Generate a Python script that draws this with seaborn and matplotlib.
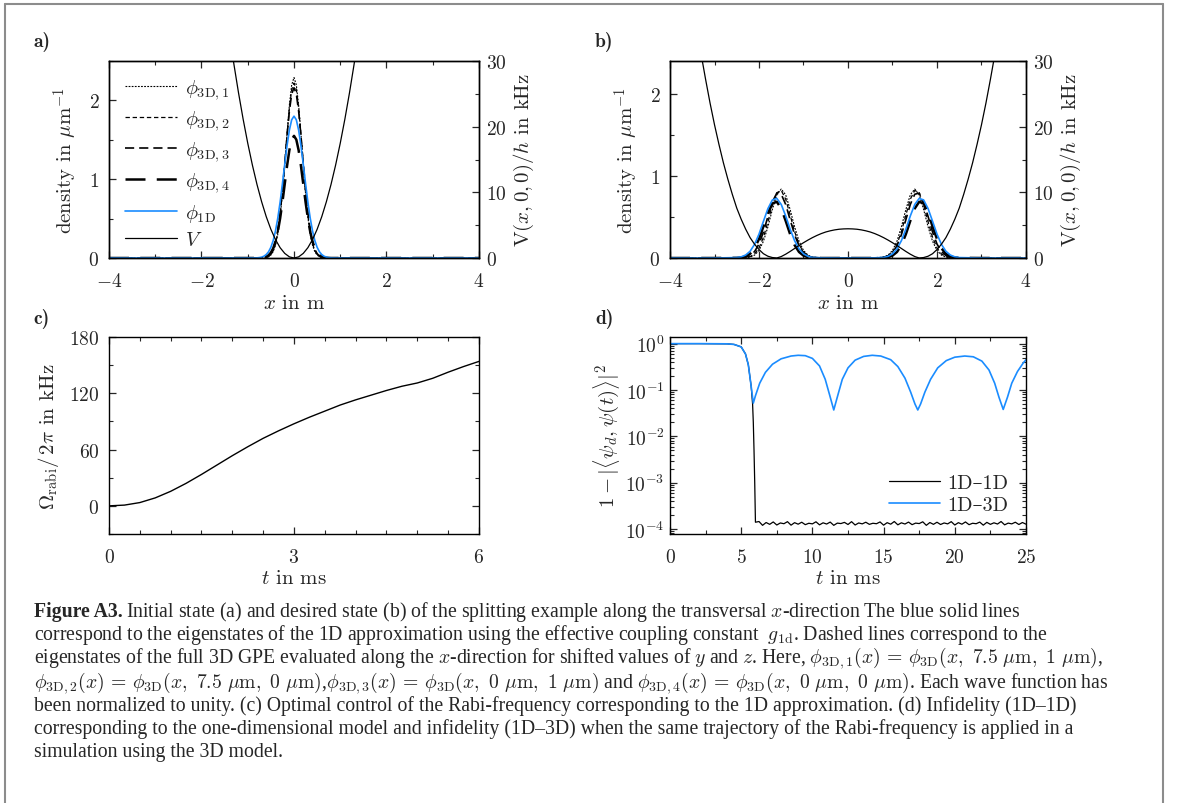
import numpy as np
import matplotlib
matplotlib.use("Agg")
import matplotlib.pyplot as plt
import seaborn as sns
from matplotlib.ticker import MultipleLocator, LogLocator, NullFormatter
from matplotlib.lines import Line2D

# ---- panel a: initial state (right half, mirrored about x=0)
xa_half = [0.0, 0.05, 0.10, 0.15, 0.20, 0.25, 0.30, 0.35, 0.40, 0.45, 0.50,
           0.55, 0.60, 0.65, 0.70, 0.75, 0.80, 1.0, 4.0]
a_3d1 = [2.290, 2.197, 1.941, 1.580, 1.184, 0.817, 0.519, 0.303, 0.164, 0.081, 0.037,
         0.016, 0.006, 0.002, 0.001, 0.0, 0.0, 0.0, 0.0]
a_3d2 = [2.220, 2.135, 1.899, 1.562, 1.188, 0.836, 0.544, 0.327, 0.182, 0.094, 0.045,
         0.020, 0.008, 0.003, 0.001, 0.0, 0.0, 0.0, 0.0]
a_3d3 = [2.160, 2.082, 1.864, 1.551, 1.199, 0.862, 0.575, 0.356, 0.205, 0.110, 0.055,
         0.025, 0.011, 0.005, 0.002, 0.001, 0.0, 0.0, 0.0]
a_3d4 = [1.550, 1.502, 1.368, 1.170, 0.940, 0.710, 0.503, 0.335, 0.210, 0.123, 0.068,
         0.035, 0.017, 0.008, 0.003, 0.001, 0.0, 0.0, 0.0]
a_1d = [1.800, 1.754, 1.623, 1.427, 1.191, 0.944, 0.710, 0.508, 0.345, 0.222, 0.136,
        0.079, 0.044, 0.023, 0.011, 0.005, 0.002, 0.0, 0.0]
# harmonic trap in kHz
va_x_half = [0.0, 0.1, 0.2, 0.3, 0.4, 0.5, 0.6, 0.7, 0.8, 0.9, 1.0, 1.1, 1.2, 1.3, 1.4]
va_half = [0.0, 0.175, 0.70, 1.57, 2.80, 4.37, 6.29, 8.57, 11.19, 14.16, 17.48,
           21.15, 25.17, 29.54, 34.26]

# ---- panel b: desired state (right half, mirrored about x=0)
xb_half = [0.0, 0.6, 0.8, 0.9, 1.0, 1.1, 1.2, 1.3, 1.4, 1.5, 1.6, 1.7, 1.8, 1.9,
           2.0, 2.1, 2.2, 2.3, 2.4, 2.5, 3.0, 4.0]
b_3d1 = [0.0, 0.001, 0.011, 0.035, 0.092, 0.204, 0.379, 0.590, 0.769, 0.840, 0.769,
         0.590, 0.379, 0.204, 0.092, 0.035, 0.011, 0.003, 0.001, 0.0, 0.0, 0.0]
b_3d2 = [0.0, 0.001, 0.008, 0.026, 0.072, 0.166, 0.322, 0.524, 0.716, 0.823, 0.795,
         0.646, 0.440, 0.252, 0.122, 0.049, 0.017, 0.005, 0.001, 0.0, 0.0, 0.0]
b_3d3 = [0.0, 0.001, 0.008, 0.025, 0.065, 0.147, 0.284, 0.466, 0.652, 0.777, 0.790,
         0.684, 0.505, 0.317, 0.170, 0.078, 0.030, 0.010, 0.003, 0.001, 0.0, 0.0]
b_3d4 = [0.0, 0.0, 0.003, 0.010, 0.029, 0.073, 0.157, 0.289, 0.452, 0.603, 0.685,
         0.664, 0.548, 0.385, 0.231, 0.118, 0.051, 0.019, 0.006, 0.002, 0.0, 0.0]
b_1d = [0.0, 0.002, 0.007, 0.020, 0.051, 0.111, 0.211, 0.351, 0.512, 0.652, 0.726,
        0.707, 0.601, 0.448, 0.291, 0.166, 0.082, 0.036, 0.014, 0.005, 0.0, 0.0]
vb_x_half = [0.0, 0.1, 0.2, 0.3, 0.4, 0.5, 0.6, 0.7, 0.8, 0.9, 1.0, 1.1, 1.2, 1.3,
             1.4, 1.5, 1.6, 1.7, 1.8, 1.9, 2.0, 2.1, 2.2, 2.3, 2.4, 2.5, 2.6, 2.7,
             2.8, 2.9, 3.0, 3.1, 3.2, 3.3, 3.4]
vb_half = [4.45, 4.43, 4.38, 4.28, 4.14, 3.96, 3.72, 3.43, 3.10, 2.73, 2.33, 1.90,
           1.45, 1.00, 0.58, 0.22, 0.0, 0.07, 0.27, 0.65, 1.29, 2.1, 3.1, 4.4, 5.9,
           7.6, 9.7, 12.0, 14.5, 17.3, 20.3, 23.6, 27.2, 31.0, 35.0]

# ---- panel c: Rabi frequency control
t_c = [0.0, 0.25, 0.5, 0.75, 1.0, 1.25, 1.5, 1.75, 2.0, 2.25, 2.5, 2.75, 3.0,
       3.25, 3.5, 3.75, 4.0, 4.25, 4.5, 4.75, 5.0, 5.25, 5.5, 5.75, 6.0]
rabi = [0.0, 0.8, 3.5, 8.5, 15.5, 24.0, 33.5, 43.5, 53.5, 63.0, 72.0, 80.0, 87.5,
        94.5, 101.0, 107.5, 113.0, 118.0, 123.0, 127.5, 131.0, 136.0, 142.5, 148.5, 154.0]

# ---- panel d: infidelity
t_11 = [0.0, 2.0, 4.0, 4.5, 5.0, 5.3, 5.5, 5.7, 5.8, 5.85, 5.9, 5.95, 6.0]
inf_11 = [1.0, 1.0, 0.99, 0.96, 0.85, 0.6, 0.35, 0.12, 0.05, 0.02, 0.005, 0.001, 1.4e-4]
inf_11_tail = [1.45, 1.20, 1.38, 1.26, 1.42, 1.22, 1.35, 1.30, 1.44, 1.21,
               1.37, 1.27, 1.40, 1.24, 1.33, 1.29, 1.43, 1.23, 1.36, 1.28,
               1.41, 1.20, 1.34, 1.31, 1.39, 1.25, 1.44, 1.22, 1.35, 1.29,
               1.40, 1.26, 1.33, 1.30, 1.42, 1.21, 1.37, 1.27, 1.45, 1.23,
               1.36, 1.28, 1.41, 1.24, 1.34, 1.31, 1.43, 1.20, 1.38, 1.26,
               1.40, 1.25, 1.35, 1.29, 1.44, 1.22, 1.37, 1.27, 1.42, 1.24,
               1.33, 1.30, 1.41, 1.21, 1.39, 1.26, 1.36, 1.28, 1.45, 1.23,
               1.34, 1.29, 1.40, 1.25, 1.38, 1.27]  # x 1e-4, every 0.25 ms from 6.25
t_13 = [0.0, 2.0, 4.0, 4.5, 5.0, 5.3, 5.5, 5.7, 5.85, 6.0, 6.3, 6.7, 7.2, 7.8, 8.5,
        9.0, 9.5, 10.0, 10.5, 10.9, 11.2, 11.5, 11.8, 12.1, 12.5, 13.0, 13.6, 14.2,
        14.8, 15.5, 16.0, 16.5, 16.9, 17.2, 17.4, 17.6, 17.9, 18.3, 18.8, 19.4, 20.0,
        20.7, 21.3, 21.9, 22.4, 22.8, 23.1, 23.4, 23.7, 24.0, 24.4, 24.8, 25.0]
inf_13 = [1.0, 1.0, 0.99, 0.96, 0.85, 0.6, 0.35, 0.12, 0.052, 0.075, 0.14, 0.24, 0.36,
          0.47, 0.54, 0.56, 0.55, 0.48, 0.33, 0.17, 0.08, 0.037, 0.08, 0.17, 0.3, 0.44,
          0.53, 0.56, 0.54, 0.45, 0.32, 0.18, 0.09, 0.05, 0.037, 0.05, 0.09, 0.17, 0.3,
          0.43, 0.51, 0.54, 0.52, 0.42, 0.27, 0.14, 0.07, 0.038, 0.07, 0.14, 0.25, 0.38,
          0.45]

BLUE = "#1a8cff"
TS = 14   # tick labels
LS = 15   # axis labels

sns.set_theme(style="ticks")
plt.rcParams["font.family"] = ["cmr10", "DejaVu Serif"]
plt.rcParams["mathtext.fontset"] = "cm"
plt.rcParams["axes.formatter.use_mathtext"] = True
plt.rcParams["axes.unicode_minus"] = True
plt.rcParams["axes.linewidth"] = 1.0
plt.rcParams["axes.edgecolor"] = "black"
plt.rcParams["font.size"] = 14

W, H = 1179, 804
fig = plt.figure(figsize=(W / 100, H / 100), dpi=100)


def box(l, t, r, b):
    return [l / W, 1 - b / H, (r - l) / W, (b - t) / H]


def mirror(xh, yh):
    xs = [-v for v in xh[::-1]] + list(xh[1:])
    ys = list(yh[::-1]) + list(yh[1:])
    return np.array(xs), np.array(ys)


def line(ax, x, y, color, lw, dash=None, label=None):
    sns.lineplot(x=x, y=y, ax=ax, color=color, lw=lw, errorbar=None, legend=False)
    ln = ax.lines[-1]
    if dash is not None:
        ln.set_dashes(dash)
    if label:
        ln.set_label(label)
    return ln


def style_ticks(ax, **kw):
    ax.tick_params(which="both", direction="in", labelsize=TS, pad=7, **kw)
    ax.tick_params(which="major", length=5, width=0.9)
    ax.tick_params(which="minor", length=3, width=0.8)


styles = [((1.6, 1.2), 0.8), ((3.5, 2.2), 0.9), ((5.5, 3.0), 1.2), ((8.0, 4.5), 1.8)]


def wave_panel(rect, xh, curves, one_d, vxh, vh, ymax, with_legend):
    ax = fig.add_axes(rect)
    handles = []
    for i, (yh, (dash, lw)) in enumerate(zip(curves, styles)):
        x, y = mirror(xh, yh)
        handles.append(line(ax, x, y, "black", lw, dash,
                            r"$\phi_{\mathrm{3D},%d}$" % (i + 1)))
    x, y = mirror(xh, one_d)
    handles.append(line(ax, x, y, BLUE, 1.2, None, r"$\phi_{\mathrm{1D}}$"))
    ax.set_xlim(-4, 4)
    ax.set_ylim(0, ymax)
    ax.xaxis.set_major_locator(MultipleLocator(2))
    ax.xaxis.set_minor_locator(MultipleLocator(1))
    ax.yaxis.set_major_locator(MultipleLocator(1))
    ax.yaxis.set_minor_locator(MultipleLocator(0.5))
    style_ticks(ax, top=True, right=False)
    ax.tick_params(axis="x", which="major", pad=10)
    ax.set_xlabel(r"$x$ in m", fontsize=LS, labelpad=3)
    ax.set_ylabel(r"density in $\mu$m$^{-1}$", fontsize=LS, labelpad=6)
    ax2 = ax.twinx()
    vx, vy = mirror(vxh, vh)
    handles.append(line(ax2, vx, vy, "black", 0.9, None, r"$V$"))
    ax2.set_ylim(0, 30)
    ax2.yaxis.set_major_locator(MultipleLocator(10))
    ax2.yaxis.set_minor_locator(MultipleLocator(5))
    style_ticks(ax2, right=True, left=False)
    ax2.tick_params(axis="y", pad=5)
    ax2.set_ylabel(r"$\mathrm{V}(x,0,0)/h$ in kHz", fontsize=LS, labelpad=4)
    if with_legend:
        ax.legend(handles=handles, loc="upper left", bbox_to_anchor=(0.0, 1.0),
                  frameon=False, fontsize=14.5, handlelength=2.6, handletextpad=0.35,
                  labelspacing=0.36, borderaxespad=0.5, borderpad=0.3)
    return ax


wave_panel(box(109, 62, 479, 259), xa_half, [a_3d1, a_3d2, a_3d3, a_3d4], a_1d,
           va_x_half, va_half, 2.5, True)
wave_panel(box(670, 62, 1026, 259), xb_half, [b_3d1, b_3d2, b_3d3, b_3d4], b_1d,
           vb_x_half, vb_half, 2.4, False)

# panel c
axc = fig.add_axes(box(109, 338, 479, 535))
line(axc, np.array(t_c), np.array(rabi), "black", 1.0)
axc.set_xlim(0, 6)
axc.set_ylim(-30, 180)
axc.xaxis.set_major_locator(MultipleLocator(3))
axc.xaxis.set_minor_locator(MultipleLocator(0.5))
axc.yaxis.set_major_locator(MultipleLocator(60))
axc.yaxis.set_minor_locator(MultipleLocator(30))
style_ticks(axc, top=True, right=True)
axc.tick_params(axis="x", which="major", pad=10)
axc.set_xlabel(r"$t$ in ms", fontsize=LS, labelpad=2)
axc.set_ylabel(r"$\Omega_{\mathrm{rabi}}/\,2\pi$ in kHz", fontsize=LS, labelpad=6)

# panel d
axd = fig.add_axes(box(670, 338, 1026, 535))
t_tail = np.arange(6.25, 25.01, 0.25)
t_black = np.concatenate([t_11, t_tail])
v_black = np.concatenate([inf_11, np.array(inf_11_tail) * 1e-4])
h1 = line(axd, t_black, v_black, "black", 0.9, None, "1D–1D")
h2 = line(axd, np.array(t_13), np.array(inf_13), BLUE, 1.2, None, "1D–3D")
axd.set_yscale("log")
axd.set_xlim(0, 25)
axd.set_ylim(7.8e-5, 1.39)
axd.xaxis.set_major_locator(MultipleLocator(5))
axd.xaxis.set_minor_locator(MultipleLocator(2.5))
axd.yaxis.set_major_locator(LogLocator(base=10, numticks=10))
axd.yaxis.set_minor_locator(LogLocator(base=10, subs=np.arange(2, 10), numticks=10))
axd.yaxis.set_minor_formatter(NullFormatter())
style_ticks(axd, top=True, right=True)
axd.tick_params(axis="x", which="major", pad=10)
axd.tick_params(axis="y", which="major", pad=4)
axd.set_xlabel(r"$t$ in ms", fontsize=LS, labelpad=2)
axd.set_ylabel(r"$1-|\langle\psi_d,\psi(t)\rangle|^2$", fontsize=LS, labelpad=2)
axd.legend(handles=[h1, h2], loc="lower right", bbox_to_anchor=(1.0, 0.01),
           frameon=False, fontsize=14.5, handlelength=2.5, handletextpad=0.35,
           labelspacing=0.2)

# panel letters
for lab, (px, py) in zip(["a)", "b)", "c)", "d)"],
                         [(33, 42), (595, 42), (33, 319), (595, 319)]):
    fig.text(px / W, 1 - py / H, lab, fontsize=14, family=["cmb10", "DejaVu Serif"],
             fontweight="bold", va="center", ha="left")

# caption
cap_font = ["Liberation Serif", "DejaVu Serif"]
CS = 14.2
lines = [
    r"Initial state (a) and desired state (b) of the splitting example along the transversal $x$-direction The blue solid lines",
    r"correspond to the eigenstates of the 1D approximation using the effective coupling constant  $g_{\mathrm{1d}}$. Dashed lines correspond to the",
    r"eigenstates of the full 3D GPE evaluated along the $x$-direction for shifted values of $y$ and $z$. Here, $\phi_{\mathrm{3D},1}(x)\,=\,\phi_{\mathrm{3D}}(x,\ 7.5\ \mu\mathrm{m},\ 1\ \mu\mathrm{m})$,",
    r"$\phi_{\mathrm{3D},2}(x)\,=\,\phi_{\mathrm{3D}}(x,\ 7.5\ \mu\mathrm{m},\ 0\ \mu\mathrm{m})$,$\phi_{\mathrm{3D},3}(x)\,=\,\phi_{\mathrm{3D}}(x,\ 0\ \mu\mathrm{m},\ 1\ \mu\mathrm{m})$ and $\phi_{\mathrm{3D},4}(x)\,=\,\phi_{\mathrm{3D}}(x,\ 0\ \mu\mathrm{m},\ 0\ \mu\mathrm{m})$. Each wave function has",
    r"been normalized to unity. (c) Optimal control of the Rabi-frequency corresponding to the 1D approximation. (d) Infidelity (1D–1D)",
    r"corresponding to the one-dimensional model and infidelity (1D–3D) when the same trajectory of the Rabi-frequency is applied in a",
    r"simulation using the 3D model.",
]
ys = [617, 640, 663, 688, 711, 734, 757]   # baselines
bold = fig.text(34 / W, 1 - ys[0] / H, "Figure A3.", fontsize=CS, family=cap_font,
                fontweight="bold", va="baseline", ha="left")
fig.canvas.draw()
bb = bold.get_window_extent(fig.canvas.get_renderer())
fig.text((bb.x1 + 3) / W, 1 - ys[0] / H, lines[0], fontsize=CS, family=cap_font,
         va="baseline", ha="left")
for txt, yy in zip(lines[1:], ys[1:]):
    fig.text(34 / W, 1 - yy / H, txt, fontsize=CS, family=cap_font, va="baseline", ha="left")

# outer frame
gray = "#8c8c8c"
for xs, ys_ in [([5, 1163], [5, 5]), ([5, 5], [5, 804]), ([1163, 1163], [5, 804])]:
    fig.add_artist(Line2D([x / W for x in xs], [1 - y / H for y in ys_],
                          color=gray, lw=1.5, transform=fig.transFigure))

fig.savefig("out.png", dpi=100)
